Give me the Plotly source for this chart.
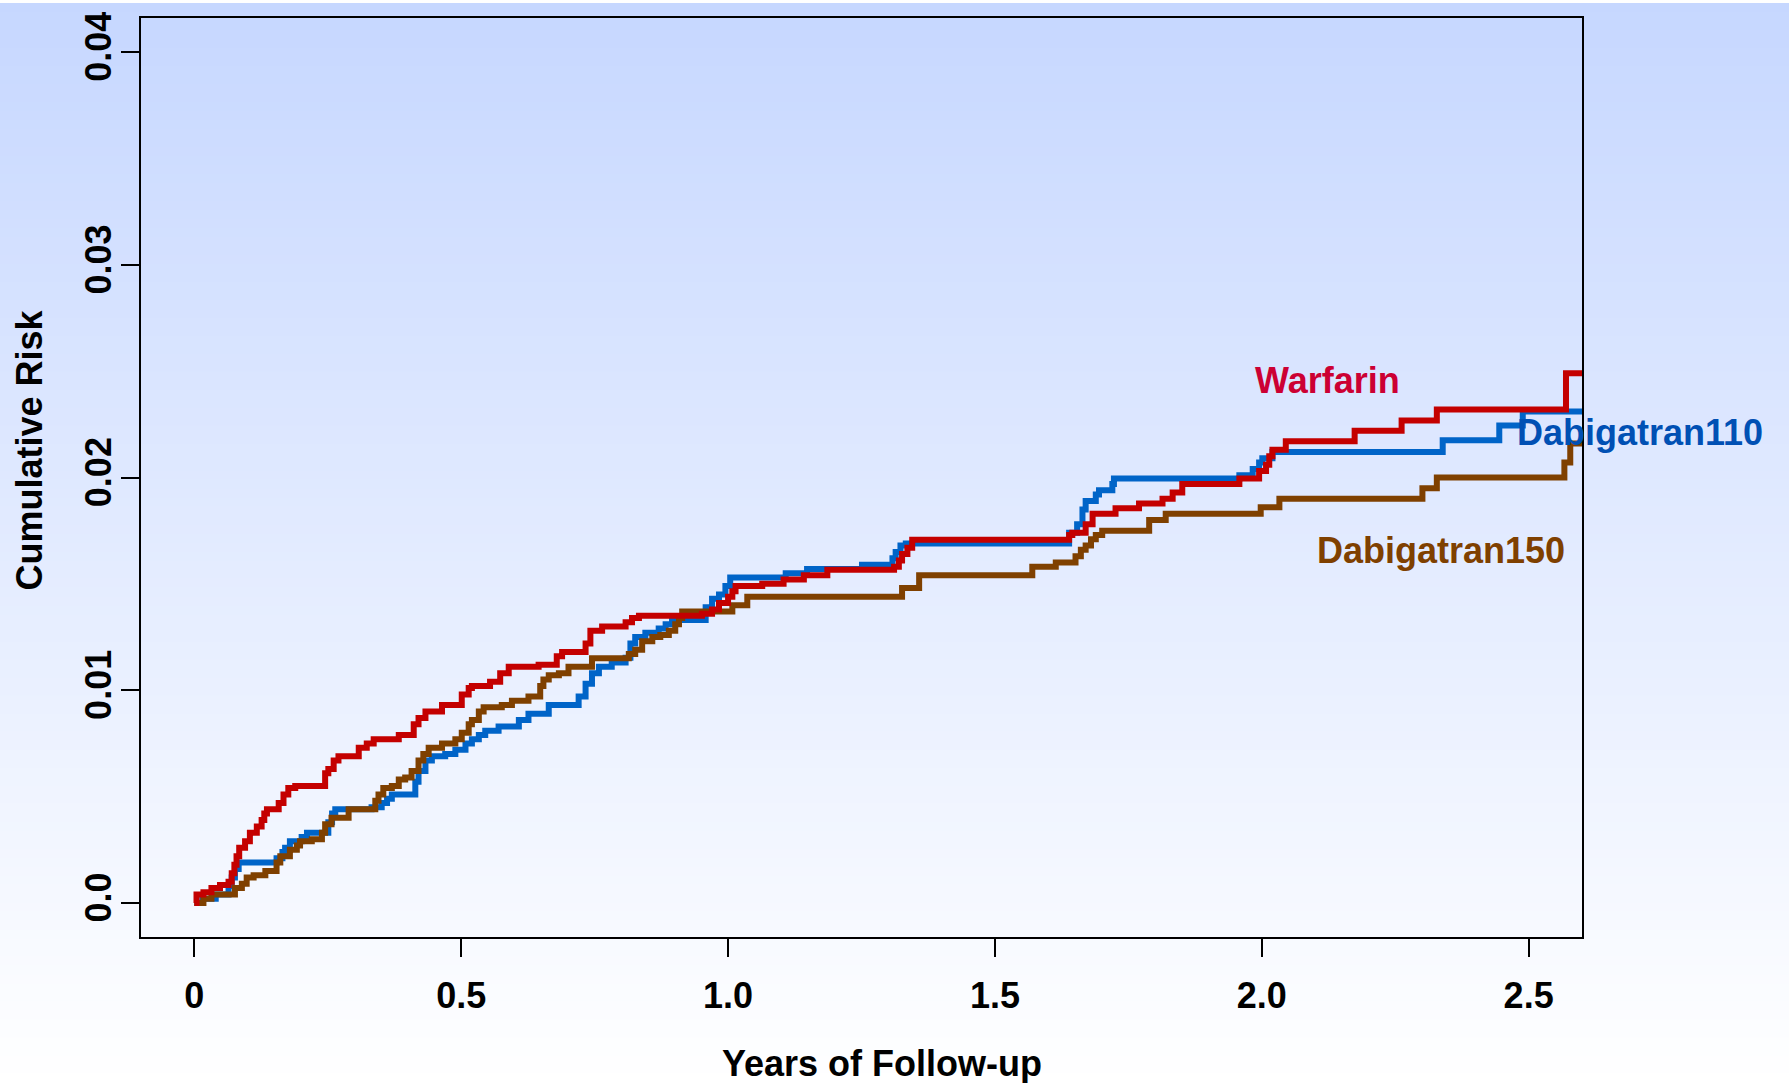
import plotly.graph_objects as go

# ---------------- data ----------------
warfarin_t = [0, 0.004, 0.017, 0.032, 0.048, 0.064, 0.070, 0.075, 0.079, 0.084, 0.095, 0.104, 0.117,
              0.126, 0.131, 0.136, 0.158, 0.167, 0.176, 0.189, 0.245, 0.251, 0.261, 0.270, 0.308,
              0.323, 0.336, 0.383, 0.411, 0.420, 0.433, 0.464, 0.501, 0.514, 0.520, 0.554, 0.573,
              0.589, 0.645, 0.679, 0.689, 0.733, 0.742, 0.764, 0.808, 0.820, 0.833, 0.951, 0.970,
              0.983, 1.000, 1.008, 1.014, 1.064, 1.104, 1.142, 1.186, 1.311, 1.320, 1.326, 1.336,
              1.345, 1.639, 1.645, 1.670, 1.683, 1.726, 1.770, 1.814, 1.833, 1.851, 1.958, 1.995,
              2.008, 2.014, 2.020, 2.045, 2.174, 2.262, 2.328, 2.570, 2.600]
warfarin_r = [0, 0.0004, 0.0005, 0.0007, 0.00085, 0.0010, 0.0014, 0.0018, 0.0022, 0.0026, 0.0029, 0.0033, 0.0036,
              0.0039, 0.0042, 0.0044, 0.0047, 0.0051, 0.0054, 0.0055, 0.0061, 0.0063, 0.0067, 0.0069, 0.0073,
              0.0075, 0.0077, 0.0079, 0.0084, 0.0087, 0.0090, 0.0093, 0.0098, 0.0101, 0.0102, 0.0104, 0.0108,
              0.0111, 0.0112, 0.0116, 0.0118, 0.0122, 0.0128, 0.0130, 0.0132, 0.0134, 0.0135, 0.0136, 0.0138,
              0.0141, 0.0144, 0.01465, 0.0149, 0.0150, 0.0152, 0.0154, 0.01566, 0.0158, 0.0161, 0.0164, 0.0167,
              0.01707, 0.0173, 0.0174, 0.0178, 0.0183, 0.01855, 0.01878, 0.0190, 0.0193, 0.0197, 0.01995, 0.0203,
              0.0206, 0.0210, 0.0213, 0.0217, 0.0222, 0.02268, 0.0232, 0.0249, 0.0249]

dabi110_t = [0, 0.015, 0.040, 0.064, 0.070, 0.076, 0.083, 0.154, 0.165, 0.170, 0.179, 0.201, 0.211,
             0.251, 0.258, 0.264, 0.332, 0.351, 0.361, 0.370, 0.414, 0.420, 0.433, 0.445, 0.470,
             0.489, 0.508, 0.520, 0.533, 0.545, 0.570, 0.608, 0.626, 0.664, 0.720, 0.733, 0.745,
             0.758, 0.782, 0.808, 0.817, 0.826, 0.845, 0.870, 0.883, 0.895, 0.958, 0.970, 0.983,
             0.995, 1.004, 1.108, 1.148, 1.251, 1.308, 1.314, 1.323, 1.333, 1.639, 1.654, 1.664,
             1.670, 1.689, 1.695, 1.720, 1.723, 1.958, 1.983, 1.995, 2.001, 2.020, 2.339, 2.445,
             2.489, 2.600]
dabi110_r = [0, 0.0002, 0.0004, 0.0008, 0.0012, 0.0016, 0.0019, 0.0021, 0.0024, 0.0026, 0.0029, 0.0031, 0.0033,
             0.0038, 0.0042, 0.0044, 0.0045, 0.0047, 0.0049, 0.0051, 0.0057, 0.0062, 0.0067, 0.0069, 0.0070,
             0.0072, 0.0075, 0.0077, 0.0079, 0.0081, 0.0083, 0.0086, 0.0089, 0.0093, 0.0097, 0.0103, 0.0108,
             0.0111, 0.0113, 0.01153, 0.0122, 0.0125, 0.0127, 0.0129, 0.0131, 0.0133, 0.0139, 0.0143, 0.0145,
             0.0149, 0.0153, 0.0155, 0.0157, 0.0159, 0.0162, 0.0165, 0.0168, 0.0169, 0.0174, 0.0178, 0.0185,
             0.0189, 0.0192, 0.0194, 0.0197, 0.01995, 0.0201, 0.0204, 0.0207, 0.0209, 0.0212, 0.02175, 0.02245,
             0.0231, 0.0231]

dabi150_t = [0, 0.017, 0.032, 0.076, 0.089, 0.098, 0.111, 0.133, 0.154, 0.161, 0.179, 0.192, 0.198,
             0.220, 0.239, 0.245, 0.257, 0.289, 0.339, 0.345, 0.354, 0.370, 0.383, 0.395, 0.407,
             0.420, 0.429, 0.439, 0.464, 0.489, 0.501, 0.514, 0.520, 0.533, 0.542, 0.576, 0.595,
             0.626, 0.648, 0.654, 0.664, 0.683, 0.701, 0.745, 0.814, 0.826, 0.839, 0.858, 0.873,
             0.889, 0.901, 0.908, 0.914, 1.008, 1.036, 1.326, 1.358, 1.570, 1.614, 1.651, 1.661,
             1.670, 1.680, 1.689, 1.701, 1.789, 1.820, 1.998, 2.033, 2.301, 2.328, 2.567, 2.578,
             2.600]
dabi150_r = [0, 0.0002, 0.0004, 0.0007, 0.0009, 0.0012, 0.0013, 0.0015, 0.0019, 0.0022, 0.0025, 0.0027, 0.0029,
             0.0030, 0.0033, 0.0037, 0.0040, 0.0044, 0.0048, 0.0051, 0.0054, 0.0055, 0.0058, 0.0059, 0.0062,
             0.0067, 0.0070, 0.0073, 0.0075, 0.0077, 0.0080, 0.0084, 0.0086, 0.0090, 0.0092, 0.0093, 0.0095,
             0.0097, 0.0102, 0.0105, 0.0107, 0.0108, 0.0111, 0.0115, 0.0117, 0.0119, 0.0123, 0.0125, 0.0126,
             0.0128, 0.0131, 0.0134, 0.0137, 0.0140, 0.0144, 0.0148, 0.0154, 0.0158, 0.0160, 0.0163, 0.0166,
             0.0168, 0.0171, 0.0173, 0.0175, 0.0180, 0.0183, 0.0186, 0.0190, 0.0195, 0.0200, 0.0207, 0.0216,
             0.0216]

x_ticks = [0, 0.5, 1.0, 1.5, 2.0, 2.5]
x_ticklabels = ["0", "0.5", "1.0", "1.5", "2.0", "2.5"]
y_ticks = [0, 0.01, 0.02, 0.03, 0.04]
y_ticklabels = ["0.0", "0.01", "0.02", "0.03", "0.04"]

series_names = ["Dabigatran110", "Dabigatran150", "Warfarin"]

# ---------------- figure ----------------
W, H = 1789, 1083
L, R, T, B = 141, 207, 15, 146
pw, ph = W - L - R, H - T - B
XR = [-0.1, 2.6]
YR = [-0.0016, 0.0416]


def px_x(v):
    return (v - XR[0]) / (XR[1] - XR[0])


def px_y(v):
    return (v - YR[0]) / (YR[1] - YR[0])


fig = go.Figure()
fig.add_trace(go.Scatter(x=dabi110_t, y=dabi110_r, mode="lines", name=series_names[0],
                         line=dict(color="#0064C8", width=6, shape="hv")))
fig.add_trace(go.Scatter(x=dabi150_t, y=dabi150_r, mode="lines", name=series_names[1],
                         line=dict(color="#7F4000", width=6, shape="hv")))
fig.add_trace(go.Scatter(x=warfarin_t, y=warfarin_r, mode="lines", name=series_names[2],
                         line=dict(color="#C40000", width=6, shape="hv")))

# background gradient (light blue at top fading to white at bottom) over the whole page
shapes = []
nb = 120
x0p, x1p = -L / pw, (W - L) / pw
top_c = (198, 215, 255)
bot_c = (255, 255, 255)
for i in range(nb):
    f = (i + 0.5) / nb
    c = tuple(int(round(top_c[k] + (bot_c[k] - top_c[k]) * f)) for k in range(3))
    ytop_px = H * i / nb
    ybot_px = H * (i + 1) / nb + 0.6
    shapes.append(dict(type="rect", xref="paper", yref="paper", layer="below",
                       x0=x0p, x1=x1p,
                       y0=(H - B - ybot_px) / ph, y1=(H - B - ytop_px) / ph,
                       fillcolor="rgb(%d,%d,%d)" % c, line=dict(width=0)))

FAM = "Liberation Sans, Arial, sans-serif"
bold = dict(family=FAM, size=36, color="black", weight="bold")


def label(text, xv, yv, color):
    return dict(text=text, xref="paper", yref="paper", x=px_x(xv), y=px_y(yv),
                xanchor="center", yanchor="middle", showarrow=False,
                font=dict(family=FAM, size=36, color=color, weight="bold"))


annotations = [
    dict(text="Years of Follow-up", xref="paper", yref="paper", x=(882 - L) / pw, y=(H - B - 1064) / ph,
         xanchor="center", yanchor="middle", showarrow=False, font=bold),
    dict(text="Cumulative Risk", xref="paper", yref="paper", x=(30 - L) / pw, y=(H - B - 449) / ph,
         xanchor="center", yanchor="middle", textangle=-90, showarrow=False, font=bold),
    label("Warfarin", 2.123, 0.02457, "#CC0033"),
    label("Dabigatran110", 2.708, 0.02213, "#0050B4"),
    label("Dabigatran150", 2.336, 0.01657, "#7F4000"),
]

axis_common = dict(ticks="outside", ticklen=18, tickwidth=2, tickcolor="black",
                   showline=True, linecolor="black", linewidth=2, mirror=True,
                   showgrid=False, zeroline=False, tickfont=bold)

fig.update_layout(
    width=W, height=H, autosize=False,
    margin=dict(l=L, r=R, t=T, b=B, pad=0),
    paper_bgcolor="white", plot_bgcolor="rgba(0,0,0,0)",
    showlegend=False,
    shapes=shapes, annotations=annotations,
    xaxis=dict(range=XR, tickmode="array", tickvals=x_ticks, ticktext=x_ticklabels,
               ticklabelstandoff=8, **axis_common),
    yaxis=dict(range=YR, tickmode="array", tickvals=y_ticks, ticktext=y_ticklabels,
               tickangle=-90, ticklabelstandoff=-4, **axis_common),
)

fig.write_html("out.html", config={"displayModeBar": False})
